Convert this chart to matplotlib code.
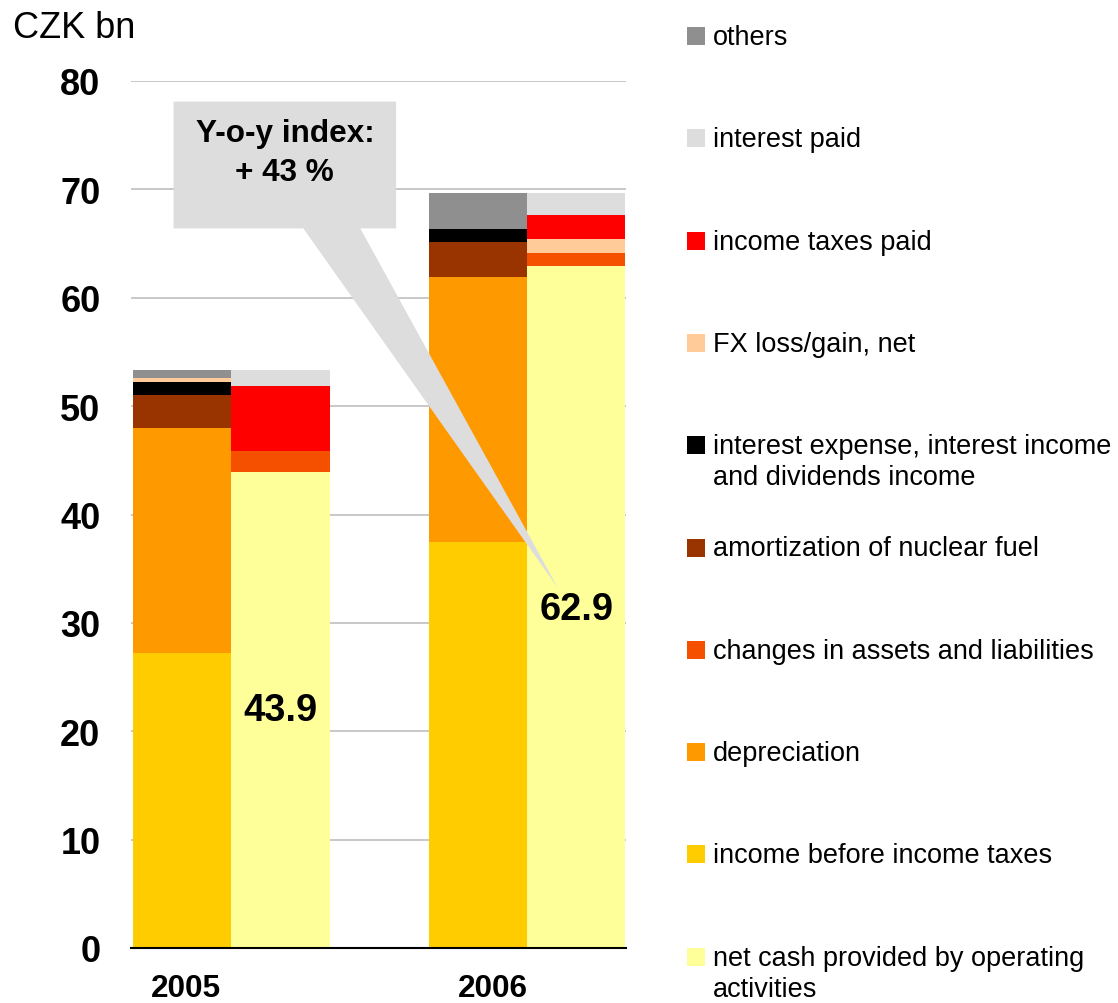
import matplotlib
matplotlib.use('Agg')
import matplotlib.pyplot as plt
from matplotlib.patches import Polygon, Rectangle

plt.rcParams['font.family'] = ['Liberation Sans', 'DejaVu Sans']

# Data (CZK bn)
years = ['2005', '2006']
# left bar: sources
income_before_taxes = [27.2, 37.5]
depreciation = [20.8, 24.4]
amortization = [3.05, 3.2]
interest_expense = [1.2, 1.2]
fx_left = [0.3, 0.0]
others = [0.8, 3.35]
# right bar: uses / result
net_cash = [43.9, 62.9]
changes_assets = [1.95, 1.2]
fx_right = [0.0, 1.3]
income_taxes_paid = [6.0, 2.2]
interest_paid = [1.45, 2.05]

yoy_text = 'Y-o-y index:\n+ 43 %'

c_income = '#FFCC00'
c_net = '#FFFF99'
c_dep = '#FF9900'
c_chg = '#F55000'
c_amort = '#993300'
c_intexp = '#000000'
c_fx = '#FFCC99'
c_tax = '#FF0000'
c_intpaid = '#DDDDDD'
c_others = '#8F8F8F'

fig = plt.figure(figsize=(11.18, 10.04), dpi=100)
ax = fig.add_axes([131 / 1118, 1 - 949 / 1004, (626 - 131) / 1118, (949 - 82) / 1004])

w = 0.333
groups = [0, 1]
left_x = [g - w / 2 for g in groups]
right_x = [g + w / 2 for g in groups]

# left stack
bottom = [0.0, 0.0]
for vals, col in [(income_before_taxes, c_income), (depreciation, c_dep),
                  (amortization, c_amort), (interest_expense, c_intexp),
                  (fx_left, c_fx), (others, c_others)]:
    ax.bar(left_x, vals, w, bottom=bottom, color=col, zorder=2)
    bottom = [b + v for b, v in zip(bottom, vals)]

# right stack
bottom = [0.0, 0.0]
for vals, col in [(net_cash, c_net), (changes_assets, c_chg), (fx_right, c_fx),
                  (income_taxes_paid, c_tax), (interest_paid, c_intpaid)]:
    ax.bar(right_x, vals, w, bottom=bottom, color=col, zorder=2)
    bottom = [b + v for b, v in zip(bottom, vals)]

ax.set_xlim(-0.34, 1.335)
ax.set_ylim(0, 80)
ax.set_yticks(range(0, 81, 10))
ax.yaxis.grid(True, color='#C4C4C4', lw=1.3, zorder=0)
ax.set_axisbelow(True)
for s in ['top', 'right', 'left']:
    ax.spines[s].set_visible(False)
ax.spines['bottom'].set_linewidth(1.5)
ax.spines['bottom'].set_zorder(3)
ax.tick_params(axis='y', length=0, pad=22, labelsize=26)
ax.tick_params(axis='x', length=0, pad=18, labelsize=22.7)
for lab in ax.get_yticklabels():
    lab.set_fontweight('bold')
ax.set_xticks([-0.155, 0.885])
ax.set_xticklabels(years, fontweight='bold')

# value labels on net cash bars
ax.text(right_x[0], 22.0, f'{net_cash[0]:.1f}', ha='center', va='center',
        fontsize=27.4, fontweight='bold', zorder=5)
ax.text(right_x[1], 31.3, f'{net_cash[1]:.1f}', ha='center', va='center',
        fontsize=27.4, fontweight='bold', zorder=5)

# callout
x0, x1, y0, y1 = -0.196, 0.557, 66.4, 78.1
callout = Polygon([(x0, y0), (0.243, y0), (1.105, 33.2), (0.436, y0), (x1, y0),
                   (x1, y1), (x0, y1)], closed=True, facecolor='#DDDDDD',
                  edgecolor='none', zorder=4, clip_on=False)
ax.add_patch(callout)
ax.text((x0 + x1) / 2, 73.4, yoy_text, ha='center', va='center', fontsize=22.7,
        fontweight='bold', linespacing=1.4, zorder=5)

fig.text(13 / 1118, 1 - 28 / 1004, 'CZK bn', fontsize=26, ha='left', va='center')

# legend, drawn manually (top to bottom)
legend_items = [
    ('others', c_others),
    ('interest paid', c_intpaid),
    ('income taxes paid', c_tax),
    ('FX loss/gain, net', c_fx),
    ('interest expense, interest income\nand dividends income', c_intexp),
    ('amortization of nuclear fuel', c_amort),
    ('changes in assets and liabilities', c_chg),
    ('depreciation', c_dep),
    ('income before income taxes', c_income),
    ('net cash provided by operating\nactivities', c_net),
]
for i, (lab, col) in enumerate(legend_items):
    cy = 37 + i * 102.3
    fig.patches.append(Rectangle((687 / 1118, 1 - (cy + 9) / 1004), 18 / 1118, 18 / 1004,
                                 transform=fig.transFigure, facecolor=col,
                                 edgecolor='none'))
    for j, line in enumerate(lab.split('\n')):
        fig.text(713 / 1118, 1 - (cy + 8 + j * 31) / 1004, line, fontsize=19.5,
                 ha='left', va='baseline')

fig.savefig('out.png', dpi=100)
